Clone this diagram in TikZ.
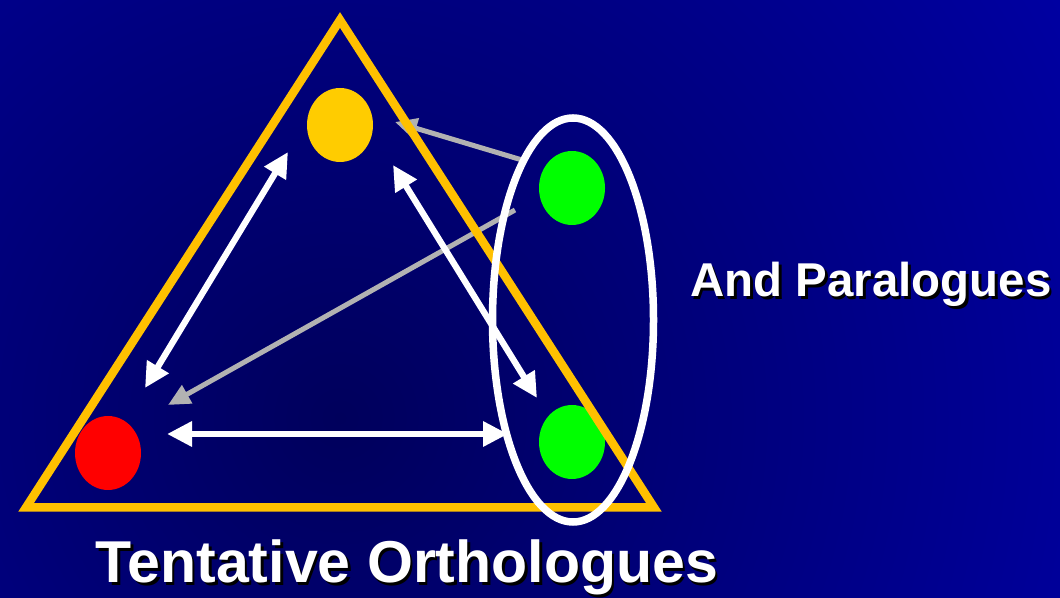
\documentclass[tikz,border=0pt]{standalone}
\usepackage{fontspec}
\setmainfont{Liberation Sans}
\usetikzlibrary{arrows.meta,calc,shapes.geometric}
\definecolor{bgdark}{RGB}{0,0,92}
\definecolor{bgbright}{RGB}{0,0,200}
\definecolor{tribar}{RGB}{255,192,0}
\definecolor{ygene}{RGB}{255,204,0}
\definecolor{ggene}{RGB}{0,255,0}
\definecolor{rgene}{RGB}{255,0,0}
\definecolor{paragray}{RGB}{178,178,178}
\tikzset{
  gene/.style={ellipse, minimum width=0.66cm, minimum height=0.74cm, inner sep=0pt},
  ortho/.style={{Triangle[length=0.25cm,width=0.24cm]}-{Triangle[length=0.25cm,width=0.24cm]}, line width=0.063cm, white},
  para/.style={-{Triangle[length=0.22cm,width=0.2cm]}, line width=0.05cm, paragray},
  group/.style={ellipse, draw=white, line width=0.075cm, minimum width=1.61cm, minimum height=4.04cm, inner sep=0pt},
  big label/.style={font=\fontsize{16.8}{20}\selectfont\bfseries, anchor=base},
  side label/.style={font=\fontsize{13.5}{16}\selectfont\bfseries, anchor=base},
}

\begin{document}
\begin{tikzpicture}

  % background
  \useasboundingbox (0,0) rectangle (10.6,5.98);
  \begin{scope}
    \clip (0,0) rectangle (10.6,5.98);
    \shade[inner color=bgdark, outer color=bgbright] (3.4,1.8) circle (13);
  \end{scope}

  % genes
  \node[gene, fill=ygene] (ytop) at (3.40,4.73) {};
  \node[gene, fill=ggene] (gtop) at (5.72,4.10) {};
  \node[gene, fill=ggene] (gbot) at (5.72,1.56) {};
  \node[gene, fill=rgene] (red) at (1.08,1.45) {};

  % paralogue links
  \draw[para] ($(gtop)+(-0.50,0.28)$) -- ($(ytop)+(0.55,0.03)$);
  \draw[para] ($(gtop)+(-0.57,-0.22)$) -- ($(red)+(0.60,0.48)$);

  % triangle
  \coordinate (apex) at (3.40,5.78);
  \coordinate (left) at (0.26,0.905);
  \coordinate (right) at (6.54,0.905);
  \draw[tribar, line width=0.085cm] (apex) -- (left) -- (right) -- cycle;

  % orthologue links
  \draw[ortho] ($(ytop)+(-0.52,-0.27)$) -- ($(red)+(0.37,0.65)$);
  \draw[ortho] ($(ytop)+(0.53,-0.40)$) -- ($(gbot)+(-0.35,0.44)$);
  \draw[ortho] ($(red)+(0.59,0.19)$) -- ($(gbot)+(-0.64,0.08)$);

  % paralogue group
  \node[group] (para) at (5.73,2.78) {};

  % labels
  \node[big label, black] (orthoshadow) at (4.095,0.125) {Tentative Orthologues};
  \node[big label, white] (orthotext) at (4.07,0.15) {Tentative Orthologues};
  \node[side label, black] (parashadow) at (8.735,2.985) {And Paralogues};
  \node[side label, white] (paratext) at (8.71,3.01) {And Paralogues};

\end{tikzpicture}
\end{document}
